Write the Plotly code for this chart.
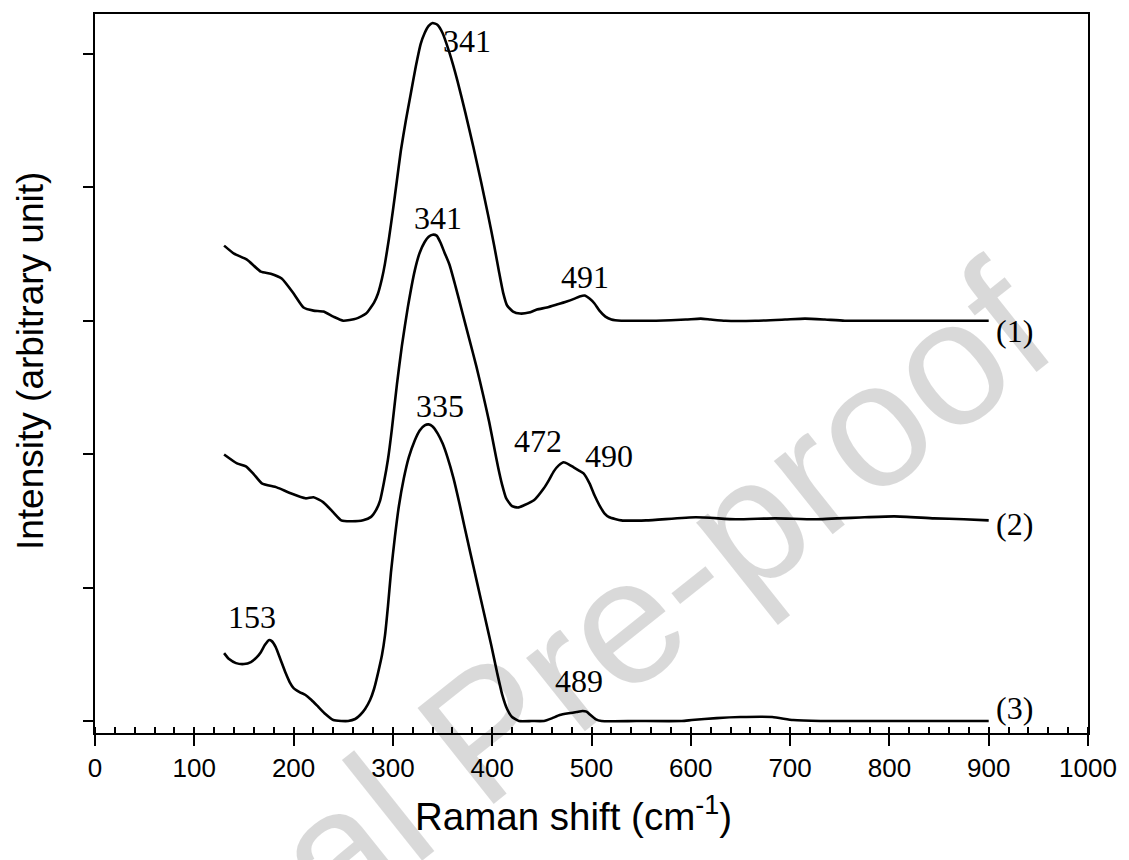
import plotly.graph_objects as go

# Raman spectra, wavenumber (cm-1) and intensity (arbitrary units, each spectrum from its own baseline)
shift_1 = [130, 140, 153, 167, 177, 188, 200, 210, 220, 230, 240, 250, 263, 273, 281, 285, 289, 292, 296, 300,
           304, 308, 313, 318, 323, 328, 332, 336, 340, 345, 350, 357, 365, 373, 381, 389, 396, 402, 407, 411,
           415, 421, 428, 437, 445, 455, 465, 475, 483, 488, 493, 498, 503, 508, 514, 520, 530, 545, 565,
           595, 610, 620, 635, 665, 695, 715, 735, 755, 805, 865, 900]
intensity_1 = [0.563, 0.503, 0.458, 0.368, 0.353, 0.316, 0.204, 0.099, 0.076, 0.069, 0.031, 0.0, 0.016, 0.054,
               0.136, 0.204, 0.316, 0.428, 0.615, 0.825, 1.049, 1.274, 1.499, 1.701, 1.903, 2.075, 2.157, 2.210,
               2.232, 2.217, 2.157, 2.007, 1.798, 1.558, 1.304, 1.034, 0.787, 0.563, 0.361, 0.211, 0.114, 0.069,
               0.054, 0.061, 0.084, 0.099, 0.121, 0.144, 0.166, 0.181, 0.189, 0.166, 0.129, 0.076, 0.031,
               0.009, 0.0, 0.0, 0.0, 0.009, 0.016, 0.009, 0.0, 0.0, 0.009, 0.016, 0.009, 0.0, 0.0, 0.0, 0.0]

shift_2 = [130, 143, 152, 160, 168, 183, 197, 212, 220, 230, 240, 248, 257, 270, 278, 283, 287, 291, 295, 299,
           304, 309, 315, 322, 327, 332, 336, 340, 344, 348, 352, 357, 363, 370, 377, 384, 391, 397, 402, 406,
           410, 414, 420, 426, 432, 442, 452, 457, 462, 467, 472, 477, 482, 487, 492, 498, 503, 508, 513, 518,
           530, 555, 605, 645, 685, 725, 775, 805, 845, 875, 900]
intensity_2 = [0.498, 0.431, 0.409, 0.349, 0.281, 0.251, 0.207, 0.169, 0.177, 0.139, 0.064, 0.004, -0.003, 0.004,
               0.030, 0.080, 0.150, 0.290, 0.460, 0.690, 1.020, 1.310, 1.600, 1.876, 2.010, 2.090, 2.130, 2.145,
               2.138, 2.085, 2.010, 1.920, 1.760, 1.560, 1.360, 1.160, 0.940, 0.740, 0.550, 0.400, 0.270, 0.170,
               0.110, 0.100, 0.117, 0.154, 0.244, 0.304, 0.371, 0.416, 0.439, 0.424, 0.401, 0.379, 0.356, 0.281,
               0.192, 0.117, 0.057, 0.027, 0.004, 0.004, 0.027, 0.012, 0.019, 0.012, 0.027, 0.034, 0.019, 0.012,
               0.004]

shift_3 = [130, 135, 142, 150, 157, 163, 167, 171, 175, 178, 182, 187, 192, 196, 200, 206, 212, 218, 225, 232,
           240, 248, 255, 262, 267, 272, 277, 281, 285, 289, 292, 295, 298, 302, 306, 311, 316, 322, 327, 332,
           336, 340, 345, 350, 355, 361, 367, 372, 378, 385, 392, 399, 405, 410, 415, 420, 427, 440, 452, 460,
           468, 477, 485, 491, 495, 499, 504, 510, 545, 591, 601, 626, 650, 682, 703, 731, 745, 805, 900]
intensity_3 = [0.509, 0.464, 0.434, 0.427, 0.442, 0.479, 0.516, 0.569, 0.606, 0.599, 0.554, 0.457, 0.359, 0.292,
               0.247, 0.217, 0.195, 0.157, 0.105, 0.052, 0.007, 0.0, 0.0, 0.015, 0.045, 0.090, 0.157, 0.240, 0.359,
               0.494, 0.640, 0.860, 1.110, 1.380, 1.610, 1.819, 1.976, 2.103, 2.178, 2.216, 2.223, 2.208, 2.156,
               2.081, 1.976, 1.820, 1.630, 1.460, 1.260, 1.030, 0.800, 0.570, 0.360, 0.200, 0.090, 0.030, 0.0,
               0.0, 0.0, 0.020, 0.045, 0.058, 0.067, 0.075, 0.070, 0.045, 0.015, 0.0, 0.0, 0.0, 0.007, 0.022,
               0.030, 0.030, 0.007, 0.0, 0.0, 0.0, 0.0]

# vertical stacking of the three spectra
offsets = [3.0, 1.5, 0.0]
sample_labels = ["(1)", "(2)", "(3)"]

# peak positions written above the bands: (text, x, y)
peak_labels = [("341", 375, 5.10), ("491", 493, 3.33),
               ("341", 345, 3.77), ("472", 446, 2.10), ("490", 518, 1.99),
               ("335", 347, 2.36), ("153", 158, 0.78), ("489", 487, 0.30)]
sample_label_y = [2.92, 1.48, 0.10]

x_ticks = list(range(0, 1001, 100))
y_ticks = [0, 1, 2, 3, 4, 5]

serif = "Liberation Serif, Times New Roman, serif"
sans = "Liberation Sans, Arial, sans-serif"

fig = go.Figure()
for xs, ys, off in zip([shift_1, shift_2, shift_3], [intensity_1, intensity_2, intensity_3], offsets):
    fig.add_trace(go.Scatter(
        x=xs, y=[v + off for v in ys], mode="lines",
        line=dict(color="black", width=2.6, shape="spline", smoothing=0.5),
        showlegend=False, hoverinfo="skip"))

annotations = []
for text, x, y in peak_labels:
    annotations.append(dict(x=x, y=y, xref="x", yref="y", text=text, showarrow=False,
                            xanchor="center", yanchor="middle",
                            font=dict(family=serif, size=32, color="black")))
for text, y in zip(sample_labels, sample_label_y):
    annotations.append(dict(x=905, y=y, xref="x", yref="y", text=text, showarrow=False,
                            xanchor="left", yanchor="middle",
                            font=dict(family=serif, size=32, color="black")))

# axis titles
annotations.append(dict(x=0.482, y=-0.112, xref="paper", yref="paper", xanchor="center", yanchor="middle",
                        text="Raman shift (cm<sup>-1</sup>)", showarrow=False,
                        font=dict(family=sans, size=38.5, color="black")))
annotations.append(dict(x=-0.065, y=0.518, xref="paper", yref="paper", xanchor="center", yanchor="middle",
                        text="Intensity (arbitrary unit)", textangle=-90, showarrow=False,
                        font=dict(family=sans, size=37, color="black")))

# journal watermark
annotations.append(dict(x=0.395, y=0.003, xref="paper", yref="paper", xanchor="center", yanchor="middle",
                        text="Journal Pre-proof", textangle=-38.5, showarrow=False,
                        font=dict(family=sans, size=178, color="rgba(0,0,0,0.15)")))

fig.update_layout(
    width=1129, height=860,
    margin=dict(l=95, r=34, t=13, b=127),
    paper_bgcolor="white", plot_bgcolor="white",
    annotations=annotations,
    xaxis=dict(range=[0, 1000], tickvals=x_ticks, ticks="outside", ticklen=11, tickwidth=2,
               tickcolor="black", showline=True, linecolor="black", linewidth=2, mirror=True,
               showgrid=False, zeroline=False,
               tickfont=dict(family=sans, size=26, color="black"),
               minor=dict(dtick=20, ticks="inside", ticklen=6, tickwidth=1.5, tickcolor="black",
                          showgrid=False)),
    yaxis=dict(range=[-0.0898, 5.299], tickvals=y_ticks, ticks="outside", ticklen=10, tickwidth=2,
               tickcolor="black", showticklabels=False, showline=True, linecolor="black",
               linewidth=2, mirror=True, showgrid=False, zeroline=False),
)

fig.write_html("out.html")
